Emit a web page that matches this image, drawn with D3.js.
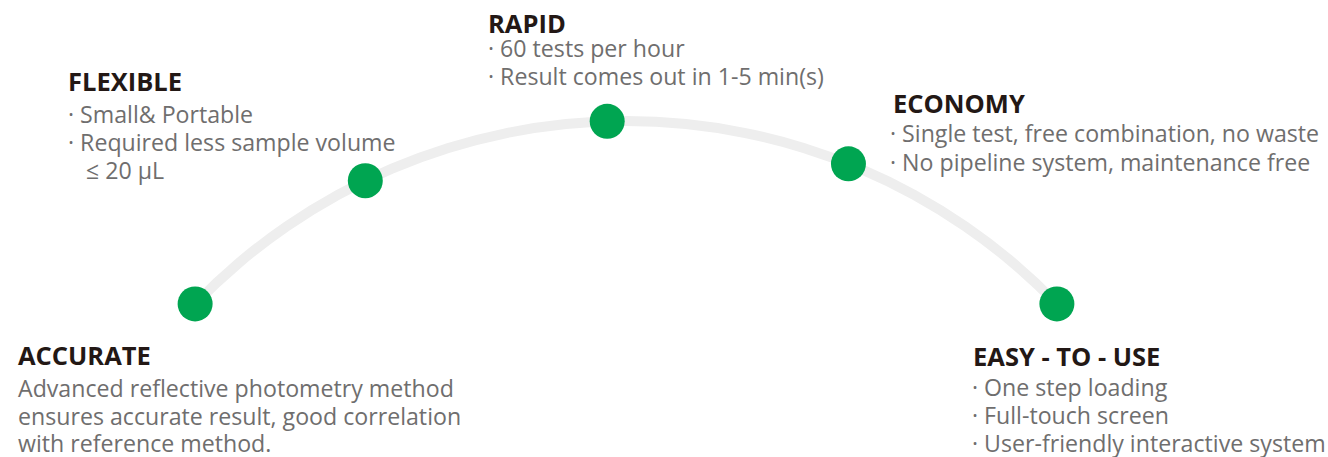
<!DOCTYPE html>
<html>
<head>
<meta charset="utf-8">
<script src="https://cdn.jsdelivr.net/npm/d3@7"></script>
<style>
  html, body { margin: 0; padding: 0; background: #ffffff; }
  svg { display: block; }
</style>
</head>
<body>
<svg id="chart" width="1328" height="457"></svg>
<script>
// ---- data ----
const titles = ["ACCURATE", "FLEXIBLE", "RAPID", "ECONOMY", "EASY - TO - USE"];
const bullets = [
  ["Advanced reflective photometry method", "ensures accurate result, good correlation", "with reference method."],
  ["· Small& Portable", "· Required less sample volume", "   ≤ 20 µL"],
  ["· 60 tests per hour", "· Result comes out in 1-5 min(s)"],
  ["· Single test, free combination, no waste", "· No pipeline system, maintenance free"],
  ["· One step loading", "· Full-touch screen", "· User-friendly interactive system"]
];
// position of each milestone along the arc, degrees clockwise from the top
const angles = [-46, -25.8, -1.8, 21.8, 46];

// ---- layout (not data) ----
const W = 1328, H = 457;
const center = [626, 720];
const radius = 599;
const labelPos = [ // [x, title baseline, first body baseline, line step]
  [18, 365, 397, 27.5],
  [68, 91, 123, 28],
  [488, 33, 57, 28],
  [890, 113, 142, 29],
  [972, 366, 396, 28]
];
const titleX = [18, 68, 488, 893, 973];

const svg = d3.select("#chart");
const angleScale = d3.scaleLinear().domain([-180, 180]).range([-Math.PI, Math.PI]);

const g = svg.append("g").attr("transform", `translate(${center[0]},${center[1]})`);

// arc track
g.append("path")
  .attr("d", d3.arc()
    .innerRadius(radius - 5)
    .outerRadius(radius + 5)
    .startAngle(angleScale(angles[0]))
    .endAngle(angleScale(angles[angles.length - 1]))())
  .attr("fill", "#eeeeee");

// dots
g.selectAll("circle.dot")
  .data(angles)
  .join("circle")
  .attr("class", "dot")
  .attr("cx", d => d3.pointRadial(angleScale(d), radius)[0])
  .attr("cy", d => d3.pointRadial(angleScale(d), radius)[1])
  .attr("r", 17.5)
  .attr("fill", "#00a551");

// labels
const sxBody = 0.965;
titles.forEach((t, i) => {
  const [x, ty, by, step] = labelPos[i];
  svg.append("text")
    .attr("x", titleX[i])
    .attr("y", ty)
    .attr("font-family", "'Open Sans', 'DejaVu Sans', sans-serif")
    .attr("font-weight", 700)
    .attr("font-size", 25.5)
    .attr("fill", "#231815")
    .text(t);
  bullets[i].forEach((line, j) => {
    svg.append("text")
      .attr("transform", `translate(${x},${by + j * step}) scale(${sxBody},1)`)
      .attr("font-family", "'Open Sans', 'DejaVu Sans', sans-serif")
      .attr("font-size", 24)
      .attr("fill", "#6f6e6e")
      .attr("xml:space", "preserve")
      .style("white-space", "pre")
      .text(line);
  });
});
</script>
</body>
</html>
